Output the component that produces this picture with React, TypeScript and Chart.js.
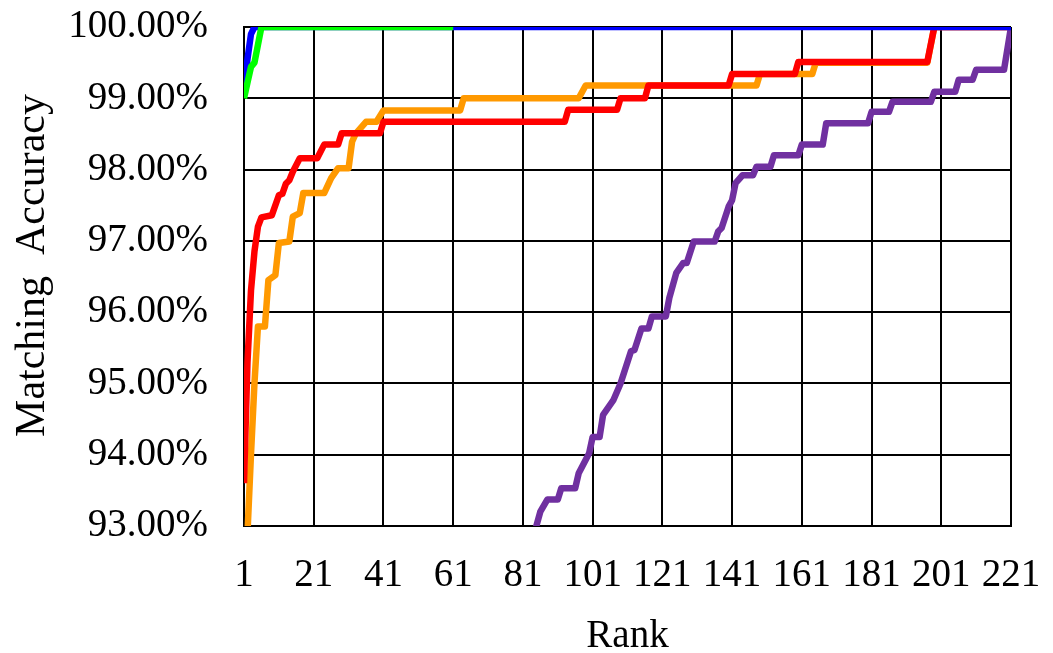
import React, { useEffect, useRef } from "react";
import { Chart, registerables } from "chart.js";

Chart.register(...registerables);

// ---- data ----
const xTickValues = [1, 21, 41, 61, 81, 101, 121, 141, 161, 181, 201, 221];
const yMin = 93;
const yMax = 100;

const blueRanks = [1, 2, 3, 4, 221];
const blueValues = [99.15, 99.55, 99.9, 100, 100];

const greenRanks = [1, 2, 3, 4, 5, 6, 61];
const greenValues = [99.0, 99.22, 99.44, 99.5, 99.75, 100, 100];

const redRanks = [1, 2, 3, 4, 5, 6, 9, 11, 12, 13, 14, 15, 17, 22, 24, 28, 29, 40, 41, 93, 94, 108, 109, 116, 117, 140, 141, 159, 160, 197, 199, 221];
const redValues = [93.6, 95.3, 96.3, 96.85, 97.2, 97.33, 97.36, 97.64, 97.66, 97.8, 97.85, 97.97, 98.16, 98.16, 98.35, 98.35, 98.51, 98.51, 98.67, 98.67, 98.84, 98.84, 99.0, 99.0, 99.18, 99.18, 99.34, 99.34, 99.51, 99.51, 100, 100];

const orangeRanks = [1, 2, 3, 4, 5, 7, 8, 10, 11, 14, 15, 17, 18, 24, 26, 28, 31, 32, 33, 36, 39, 41, 63, 64, 97, 99, 148, 149, 164, 165, 197, 199, 221];
const orangeValues = [91.5, 92.9, 94.0, 95.0, 95.8, 95.8, 96.45, 96.52, 96.97, 96.99, 97.34, 97.39, 97.67, 97.67, 97.88, 98.02, 98.02, 98.39, 98.5, 98.67, 98.67, 98.83, 98.83, 99.0, 99.0, 99.18, 99.18, 99.34, 99.34, 99.5, 99.5, 100, 100];

const purpleRanks = [84, 86, 88, 91, 92, 96, 97, 100, 101, 103, 104, 106, 107, 109, 112, 113, 115, 117, 118, 122, 123, 125, 127, 128, 130, 136, 137, 138, 140, 141, 142, 144, 147, 148, 152, 153, 160, 161, 167, 168, 180, 181, 186, 187, 198, 199, 205, 206, 210, 211, 219, 221];
const purpleValues = [92.85, 93.2, 93.37, 93.37, 93.53, 93.53, 93.74, 94.02, 94.25, 94.25, 94.56, 94.7, 94.77, 95.0, 95.45, 95.47, 95.77, 95.77, 95.94, 95.94, 96.2, 96.55, 96.69, 96.69, 96.99, 96.99, 97.13, 97.18, 97.48, 97.57, 97.81, 97.92, 97.92, 98.04, 98.04, 98.2, 98.2, 98.35, 98.35, 98.65, 98.65, 98.81, 98.81, 98.95, 98.95, 99.09, 99.09, 99.26, 99.26, 99.4, 99.4, 100];

const xTitle = "Rank";
const yTitle = "Matching  Accuracy";

const W = 1053;
const H = 653;
const FONT = "'Liberation Serif', 'Times New Roman', serif";

function pts(ranks: number[], values: number[]) {
  return ranks.map((r, i) => ({ x: r, y: values[i] }));
}

// draws the rotated y-axis title, centred a little above the plot centre as in the reference
const yTitlePlugin = {
  id: "yTitle",
  afterDraw(chart: any) {
    const { ctx, chartArea } = chart;
    ctx.save();
    ctx.fillStyle = "#000";
    ctx.font = `42px ${FONT}`;
    ctx.textAlign = "center";
    ctx.textBaseline = "middle";
    ctx.translate(33, (chartArea.top + chartArea.bottom) / 2 - 11);
    ctx.rotate(-Math.PI / 2);
    ctx.fillText(yTitle, 0, 0);
    ctx.restore();
  },
};

export default function App() {
  const ref = useRef<HTMLCanvasElement | null>(null);

  useEffect(() => {
    if (!ref.current) return;
    const common = {
      pointRadius: 0,
      borderWidth: 6.5,
      tension: 0,
      fill: false,
      borderJoinStyle: "round" as const,
    };
    const chart = new Chart(ref.current, {
      type: "line",
      data: {
        datasets: [
          { ...common, label: "green", data: pts(greenRanks, greenValues), borderColor: "#00ff00", order: 0 },
          { ...common, label: "blue", data: pts(blueRanks, blueValues), borderColor: "#0000ff", order: 1 },
          { ...common, label: "purple", data: pts(purpleRanks, purpleValues), borderColor: "#7030a0", order: 2 },
          { ...common, label: "red", data: pts(redRanks, redValues), borderColor: "#ff0000", order: 3 },
          { ...common, label: "orange", data: pts(orangeRanks, orangeValues), borderColor: "#ff9900", order: 4 },
        ],
      },
      options: {
        responsive: false,
        animation: false,
        devicePixelRatio: 1,
        layout: { padding: { top: 27, right: 42, left: 0, bottom: 0 } },
        plugins: { legend: { display: false }, tooltip: { enabled: false } },
        scales: {
          x: {
            type: "linear",
            min: 1,
            max: 221,
            afterBuildTicks: (scale: any) => {
              scale.ticks = xTickValues.map((v) => ({ value: v }));
            },
            afterFit: (scale: any) => {
              scale.height = 127;
              scale.paddingLeft = 0;
              scale.paddingRight = 0;
            },
            grid: { color: "#000", lineWidth: 2, drawTicks: false },
            border: { color: "#000", width: 2 },
            ticks: {
              color: "#000",
              padding: 26,
              maxRotation: 0,
              autoSkip: false,
              font: { family: FONT, size: 39 },
              callback: (v: any) => String(v),
            },
            title: {
              display: true,
              text: xTitle,
              color: "#000",
              font: { family: FONT, size: 39, lineHeight: 0.85 },
              padding: { top: 0, bottom: 0 },
            },
          },
          y: {
            type: "linear",
            min: yMin,
            max: yMax,
            afterFit: (scale: any) => {
              scale.width = 244;
              scale.paddingTop = 0;
              scale.paddingBottom = 0;
            },
            grid: { color: "#000", lineWidth: 2, drawTicks: false },
            border: { color: "#000", width: 2 },
            ticks: {
              stepSize: 1,
              color: "#000",
              padding: 36,
              font: { family: FONT, size: 39 },
              callback: (v: any) => Number(v).toFixed(2) + "%",
            },
            title: { display: false },
          },
        },
      },
      plugins: [yTitlePlugin],
    });
    return () => chart.destroy();
  }, []);

  return (
    <canvas
      ref={ref}
      width={W}
      height={H}
      style={{ position: "absolute", left: 0, top: 0, width: W, height: H, display: "block", background: "#fff" }}
    />
  );
}
